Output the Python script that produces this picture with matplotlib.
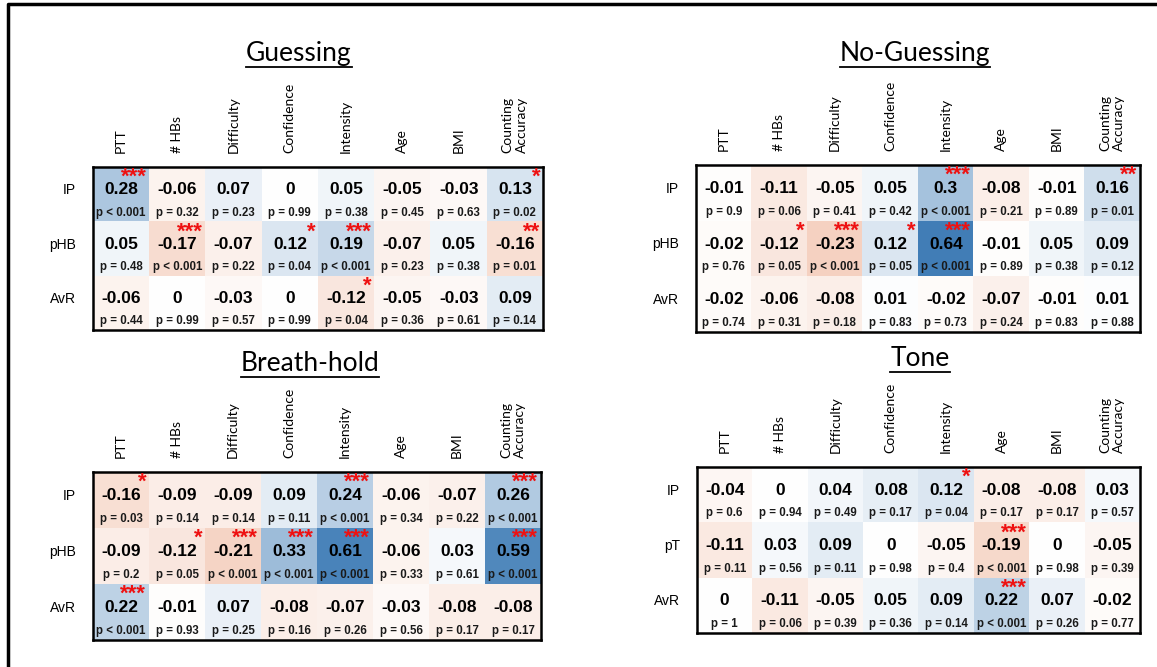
import numpy as np
import matplotlib.pyplot as plt
from matplotlib.colors import LinearSegmentedColormap, Normalize
from matplotlib.lines import Line2D

# column / row names
cols = ['PTT', '# HBs', 'Difficulty', 'Confidence', 'Intensity', 'Age', 'BMI',
        'Counting\nAccuracy']
rows_hb = ['IP', 'pHB', 'AvR']
rows_tone = ['IP', 'pT', 'AvR']

# correlation values (r) and p-values (0 means p < 0.001)
guess_r = [[0.28, -0.06, 0.07, 0, 0.05, -0.05, -0.03, 0.13],
           [0.05, -0.17, -0.07, 0.12, 0.19, -0.07, 0.05, -0.16],
           [-0.06, 0, -0.03, 0, -0.12, -0.05, -0.03, 0.09]]
guess_p = [[0, 0.32, 0.23, 0.99, 0.38, 0.45, 0.63, 0.02],
           [0.48, 0, 0.22, 0.04, 0, 0.23, 0.38, 0.01],
           [0.44, 0.99, 0.57, 0.99, 0.04, 0.36, 0.61, 0.14]]

noguess_r = [[-0.01, -0.11, -0.05, 0.05, 0.3, -0.08, -0.01, 0.16],
             [-0.02, -0.12, -0.23, 0.12, 0.64, -0.01, 0.05, 0.09],
             [-0.02, -0.06, -0.08, 0.01, -0.02, -0.07, -0.01, 0.01]]
noguess_p = [[0.9, 0.06, 0.41, 0.42, 0, 0.21, 0.89, 0.01],
             [0.76, 0.05, 0, 0.05, 0, 0.89, 0.38, 0.12],
             [0.74, 0.31, 0.18, 0.83, 0.73, 0.24, 0.83, 0.88]]

breath_r = [[-0.16, -0.09, -0.09, 0.09, 0.24, -0.06, -0.07, 0.26],
            [-0.09, -0.12, -0.21, 0.33, 0.61, -0.06, 0.03, 0.59],
            [0.22, -0.01, 0.07, -0.08, -0.07, -0.03, -0.08, -0.08]]
breath_p = [[0.03, 0.14, 0.14, 0.11, 0, 0.34, 0.22, 0],
            [0.2, 0.05, 0, 0, 0, 0.33, 0.61, 0],
            [0, 0.93, 0.25, 0.16, 0.26, 0.56, 0.17, 0.17]]

tone_r = [[-0.04, 0, 0.04, 0.08, 0.12, -0.08, -0.08, 0.03],
          [-0.11, 0.03, 0.09, 0, -0.05, -0.19, 0, -0.05],
          [0, -0.11, -0.05, 0.05, 0.09, 0.22, 0.07, -0.02]]
tone_p = [[0.6, 0.94, 0.49, 0.17, 0.04, 0.17, 0.17, 0.57],
          [0.11, 0.56, 0.11, 0.98, 0.4, 0, 0.98, 0.39],
          [1, 0.06, 0.39, 0.36, 0.14, 0, 0.26, 0.77]]

W, H = 1157, 667
fig = plt.figure(figsize=(W / 100, H / 100), dpi=100)

cmap = LinearSegmentedColormap.from_list(
    'ob', ['#e0703c', '#ffffff', '#2a6eae'])
norm = Normalize(vmin=-0.72, vmax=0.72)


def stars(p):
    if p < 0.001:
        return '***'
    if p <= 0.01:
        return '**'
    if p <= 0.05:
        return '*'
    return ''


def ptext(p):
    if p < 0.001:
        return 'p < 0.001'
    return f'p = {p:g}'


def panel(box, r, p, rows, title, title_xy):
    x0, y0, x1, y1 = box
    ax = fig.add_axes([x0 / W, 1 - y1 / H, (x1 - x0) / W, (y1 - y0) / H])
    r = np.array(r, dtype=float)
    p = np.array(p, dtype=float)
    ax.imshow(r, cmap=cmap, norm=norm, aspect='auto')
    for i in range(r.shape[0]):
        for j in range(r.shape[1]):
            ax.text(j, i - 0.08, f'{r[i, j]:g}', ha='center', va='center',
                    fontsize=12.5, fontweight='bold', family='Liberation Sans')
            ax.text(j, i + 0.34, ptext(p[i, j]), ha='center', va='center',
                    fontsize=8.3, fontweight='bold', family='Liberation Sans',
                    color='#1a1a1a')
            s = stars(p[i, j])
            if s:
                ax.text(j + 0.45, i - 0.5, s, ha='right', va='top',
                        fontsize=16, fontweight='bold', color='#ee1111',
                        family='Liberation Sans')
    ax.set_xticks(range(len(cols)))
    ax.set_xticklabels(cols, rotation=90, fontsize=10, family='Lato',
                       va='bottom', ha='center')
    ax.xaxis.tick_top()
    ax.tick_params(axis='x', length=0, pad=10)
    ax.set_yticks([i - 0.1 for i in range(len(rows))])
    ax.set_yticklabels(rows, fontsize=10, family='Liberation Sans')
    ax.tick_params(axis='y', length=0, pad=12)
    for sp in ax.spines.values():
        sp.set_linewidth(1.8)
    t = fig.text(title_xy[0] / W, 1 - title_xy[1] / H, title, ha='center',
                 va='baseline', fontsize=19, family='Lato')
    return t


titles = [
    panel((93, 167, 543, 330), guess_r, guess_p, rows_hb, 'Guessing', (299, 61)),
    panel((696, 165, 1140, 332), noguess_r, noguess_p, rows_hb, 'No-Guessing', (915, 61)),
    panel((93, 472, 541, 640), breath_r, breath_p, rows_hb, 'Breath-hold', (310, 371)),
    panel((697, 467, 1140, 633), tone_r, tone_p, rows_tone, 'Tone', (920, 366)),
]

# underline the titles
fig.canvas.draw()
rend = fig.canvas.get_renderer()
for t in titles:
    bb = t.get_window_extent(rend).transformed(fig.transFigure.inverted())
    yb = t.get_position()[1] - 0.009
    fig.add_artist(Line2D([bb.x0, bb.x1], [yb, yb], color='black', lw=1.3,
                          transform=fig.transFigure))

# outer frame
fig.add_artist(Line2D([8 / W, 8 / W, 1.0], [0, 1 - 4 / H, 1 - 4 / H],
                      color='black', lw=2.5, transform=fig.transFigure))

fig.savefig('out.png', dpi=100)
